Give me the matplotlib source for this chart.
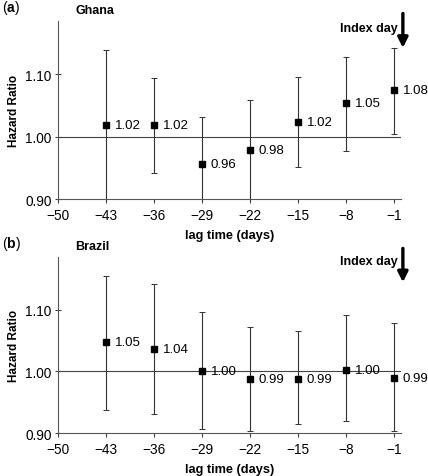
import matplotlib
matplotlib.use("Agg")
from matplotlib import pyplot as plt

plt.rcParams['font.family'] = ['Liberation Sans', 'DejaVu Sans']
plt.rcParams['mathtext.fontset'] = 'custom'
plt.rcParams['mathtext.bf'] = 'Liberation Sans:bold'

lags = [-43, -36, -29, -22, -15, -8, -1]

# Ghana
ghana_hr = [1.018, 1.018, 0.956, 0.978, 1.023, 1.053, 1.074]
ghana_lo = [0.880, 0.941, 0.880, 0.880, 0.952, 0.977, 1.004]
ghana_hi = [1.139, 1.094, 1.031, 1.058, 1.095, 1.128, 1.142]
ghana_labels = ["1.02", "1.02", "0.96", "0.98", "1.02", "1.05", "1.08"]

# Brazil
brazil_hr = [1.048, 1.037, 1.000, 0.987, 0.987, 1.003, 0.989]
brazil_lo = [0.938, 0.931, 0.907, 0.904, 0.914, 0.920, 0.903]
brazil_hi = [1.155, 1.142, 1.097, 1.073, 1.066, 1.091, 1.078]
brazil_labels = ["1.05", "1.04", "1.00", "0.99", "0.99", "1.00", "0.99"]

fig = plt.figure(figsize=(4.28, 4.77), dpi=100)

# tag, name, values, axes rect, ylim top, arrow tail/tip, text y
panels = [
    (r"($\mathbf{a}$)", "Ghana", ghana_hr, ghana_lo, ghana_hi, ghana_labels,
     [0.1355, 0.5807, 0.801, 0.3732], 1.185, (1.197, 1.142), 1.174),
    (r"($\mathbf{b}$)", "Brazil", brazil_hr, brazil_lo, brazil_hi, brazil_labels,
     [0.1355, 0.0901, 0.801, 0.3690], 1.186, (1.200, 1.145), 1.180),
]

for tag, country, hr, lo, hi, labels, rect, ytop, arr, ty in panels:
    ax = fig.add_axes(rect)
    yerr = [[h - l for h, l in zip(hr, lo)], [u - h for h, u in zip(hr, hi)]]
    ax.axhline(1.0, color="#444444", lw=0.8, zorder=1)
    ax.errorbar(lags, hr, yerr=yerr, fmt="s", color="black", ms=5,
                ecolor="#333333", elinewidth=0.8, capsize=2, capthick=0.7, zorder=3)
    for x, y, s in zip(lags, hr, labels):
        ax.text(x + 1.25, y, s, fontsize=9.5, va="center", ha="left")

    ax.set_xlim(-50, 0)
    ax.set_ylim(0.90, ytop)
    ax.set_xticks([-50, -43, -36, -29, -22, -15, -8, -1])
    ax.set_xticklabels(["\u221250", "\u221243", "\u221236", "\u221229",
                        "\u221222", "\u221215", "\u22128", "\u22121"])
    ax.set_yticks([0.90, 1.00, 1.10])
    ax.set_yticklabels(["0.90", "1.00", "1.10"])
    ax.tick_params(axis="both", labelsize=9.8, color="#444444", width=0.8)
    ax.tick_params(axis="y", direction="inout", length=5, pad=2)
    ax.tick_params(axis="x", direction="out", length=3)
    for side in ["top", "right"]:
        ax.spines[side].set_visible(False)
    for side in ["left", "bottom"]:
        ax.spines[side].set_color("#555555")
        ax.spines[side].set_linewidth(0.8)

    ax.set_xlabel("lag time (days)", fontsize=9.2, fontweight="bold", labelpad=5)
    ax.set_ylabel("Hazard Ratio", fontsize=8.5, fontweight="bold", labelpad=4)

    ax.text(-0.163, 1.03, tag, transform=ax.transAxes, fontsize=10, ha="left", va="bottom")
    ax.text(0.05, 1.03, country, transform=ax.transAxes, fontsize=9,
            fontweight="bold", ha="left", va="bottom")

    # index day arrow
    ax.annotate("", xy=(0.3, arr[1]), xytext=(0.3, arr[0]),
                xycoords="data", annotation_clip=False,
                arrowprops=dict(arrowstyle="-|>,head_width=0.3,head_length=0.6",
                                color="black", lw=2.4, shrinkA=0, shrinkB=0))
    ax.text(-0.4, ty, "Index day", fontsize=9, fontweight="bold",
            ha="right", va="center")

fig.savefig("out.png", dpi=100)
